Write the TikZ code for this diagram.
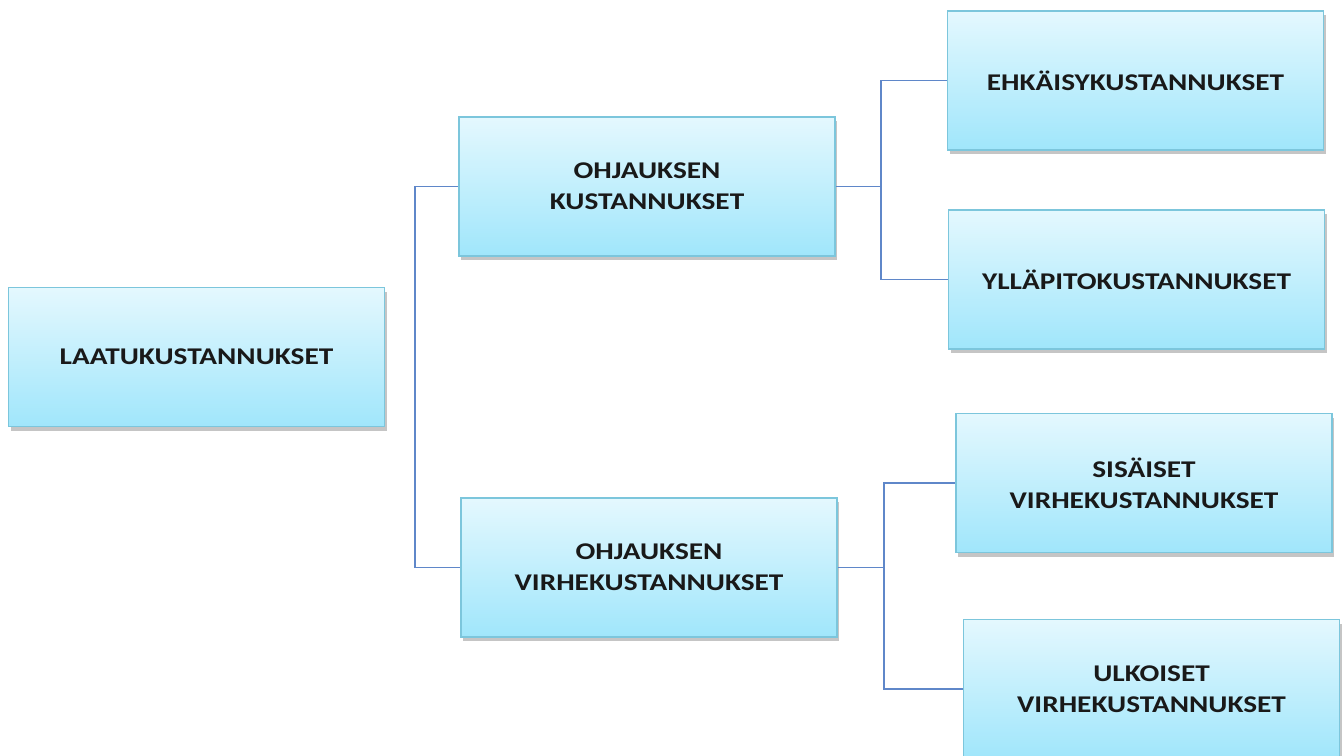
\documentclass[tikz,border=0pt]{standalone}
\usepackage{fontspec}
\setmainfont{Carlito}
\usepackage{xcolor}
\usepackage{tikz}
\usetikzlibrary{shadows}

\newfontfamily\boxfont[FakeStretch=1.22]{Carlito}

\definecolor{boxtop}{HTML}{E4F8FE}
\definecolor{boxbot}{HTML}{A0E6FB}
\definecolor{boxline}{HTML}{7CC6DC}
\definecolor{linkblue}{HTML}{5F87C9}

\begin{document}
\begin{tikzpicture}[x=1pt, y=-1pt,
  cost/.style={rectangle, draw=boxline, line width=1.6pt, top color=boxtop, bottom color=boxbot,
    minimum width=376pt, minimum height=139pt, align=center, inner sep=0pt,
    font=\boxfont\fontsize{24}{31}\selectfont\bfseries, text=black!90,
    drop shadow={shadow xshift=2pt, shadow yshift=-4pt, fill=black!45, opacity=0.5}},
  link/.style={draw=linkblue, line width=1.6pt}
]
\useasboundingbox (0,0) rectangle (1343,755);

% Root
\node[cost] (laatu) at (196.5,357) {LAATUKUSTANNUKSET};

% Level 1
\node[cost] (kust) at (647,186.5) {OHJAUKSEN\\KUSTANNUKSET};
\node[cost] (virhe) at (649,567.5) {OHJAUKSEN\\VIRHEKUSTANNUKSET};

% Level 2
\node[cost] (ehk) at (1135.5,80.5) {EHKÄISYKUSTANNUKSET};
\node[cost] (yll) at (1136.5,279.5) {YLLÄPITOKUSTANNUKSET};
\node[cost] (sis) at (1144,483) {SISÄISET\\VIRHEKUSTANNUKSET};
\node[cost] (ulk) at (1151.5,689) {ULKOISET\\VIRHEKUSTANNUKSET};

% Connections
\draw[link] (kust.west) -- ++(-43,0) |- (virhe.west);
\draw[link] (kust.east) -- ++(45,0) |- (ehk.west);
\draw[link] (kust.east) -- ++(45,0) |- (yll.west);
\draw[link] (virhe.east) -- ++(46,0) |- (sis.west);
\draw[link] (virhe.east) -- ++(46,0) |- (ulk.west);

\end{tikzpicture}
\end{document}
